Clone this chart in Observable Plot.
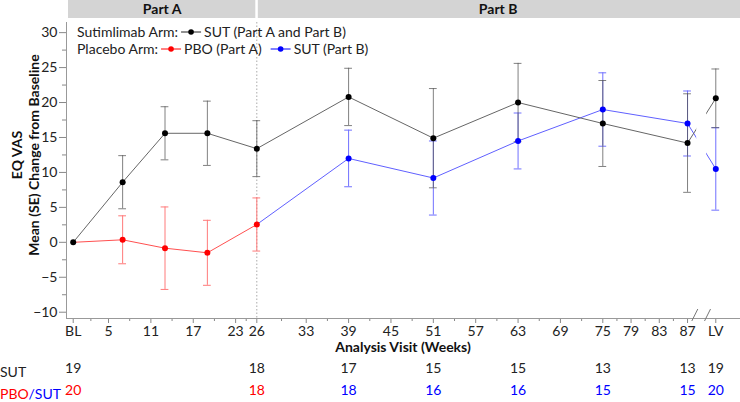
<!DOCTYPE html>
<html><head><meta charset="utf-8">
<script src="https://cdn.jsdelivr.net/npm/d3@7"></script>
<script src="https://cdn.jsdelivr.net/npm/@observablehq/plot@0.6"></script>
<style>
body{margin:0;background:#fff;font-family:Lato,"Open Sans",sans-serif;}
</style></head><body><div id="chart"></div>
<script>
// ---- data ----
const sutWeeks = [0, 7, 13, 19, 26, 39, 51, 63, 75, 87, 91]; // 91 = LV (after axis break)
const sutMean  = [0, 8.6, 15.6, 15.6, 13.4, 20.8, 14.9, 20.0, 17.0, 14.2, 20.6];
const sutSE    = [0, 3.8, 3.8, 4.6, 4.0, 4.1, 7.1, 5.6, 6.15, 7.05, 4.2];
const pboWeeks = [0, 7, 13, 19, 26];
const pboMean  = [0, 0.36, -0.84, -1.5, 2.55];
const pboSE    = [0, 3.43, 5.9, 4.65, 3.8];
const sutBWeeks = [39, 51, 63, 75, 87, 91];
const sutBMean  = [12.0, 9.2, 14.5, 19.0, 17.0, 10.5];
const sutBSE    = [4.05, 5.3, 4.0, 5.25, 4.65, 5.9];
const xTicks = [0, 5, 11, 17, 23, 26, 33, 39, 45, 51, 57, 63, 69, 75, 79, 83, 87, 91];
const xTickLabels = ["BL","5","11","17","23","26","33","39","45","51","57","63","69","75","79","83","87","LV"];
const yTicks = [-10, -5, 0, 5, 10, 15, 20, 25, 30];
const nWeeks = [0, 26, 39, 51, 63, 75, 87, 91];
const nSUT = [19, 18, 17, 15, 15, 13, 13, 19];
const nPBO = [20, 18, 18, 16, 16, 15, 15, 20];
const nPBOArm = ["PBO","PBO","SUT","SUT","SUT","SUT","SUT","SUT"];

// ---- derived tables ----
const mk = (ws, ms, ses) => ws.map((w, i) => ({w, m: ms[i], lo: ms[i] - ses[i], hi: ms[i] + ses[i], se: ses[i]}));
const sut = mk(sutWeeks, sutMean, sutSE);
const pbo = mk(pboWeeks, pboMean, pboSE);
const sutB = mk(sutBWeeks, sutBMean, sutBSE);
const sutBLine = [pbo[pbo.length - 1], ...sutB];
const xMinor = [];
for (let i = 0; i < xTicks.length - 2; i++) xMinor.push((xTicks[i] + xTicks[i + 1]) / 2);
const yMinor = yTicks.slice(0, -1).map(v => v + 2.5);
const labelOf = new Map(xTicks.map((t, i) => [t, xTickLabels[i]]));
const counts1 = nWeeks.map((w, i) => ({w, n: String(nSUT[i])}));
const counts2 = nWeeks.map((w, i) => ({w, n: String(nPBO[i]), arm: nPBOArm[i]}));

const xMin = -0.95, xMax = 94.5, yMin = -10.9, yMax = 31.45;
const BLACK = "#000", BLINE = "#666", BBAR = "#555";
const RED = "#ff0000", RLINE = "#ff5050", RBAR = "#ff7a7a";
const BLUE = "#0000ff", ULINE = "#6060ff", UBAR = "#7070ff";
const capW = 0.55;

function errorBars(rows, stroke, opacity) {
  const r = rows.filter(d => d.se > 0);
  return [
    Plot.ruleX(r, {x: "w", y1: "lo", y2: "hi", stroke, strokeOpacity: opacity}),
    Plot.ruleY(r, {y: "lo", x1: d => d.w - capW, x2: d => d.w + capW, stroke, strokeOpacity: opacity}),
    Plot.ruleY(r, {y: "hi", x1: d => d.w - capW, x2: d => d.w + capW, stroke, strokeOpacity: opacity})
  ];
}

const chart = Plot.plot({
  width: 740, height: 402,
  marginTop: 22, marginBottom: 84, marginLeft: 66, marginRight: 0,
  style: {fontFamily: "Lato, 'Open Sans', sans-serif", fontSize: "14px", color: "#222", background: "#fff", overflow: "visible"},
  x: {domain: [xMin, xMax]},
  y: {domain: [yMin, yMax]},
  marks: [
    Plot.ruleX([26], {stroke: "#aaa", strokeDasharray: "1.5,2"}),
    Plot.axisY({ticks: yTicks, tickSize: 7, tickPadding: 2, label: null, fontSize: 14, stroke: "#888", fill: "#222"}),
    Plot.axisY({ticks: yMinor, tickSize: 4, tickFormat: () => "", label: null, stroke: "#888"}),
    Plot.axisX({ticks: xTicks, tickSize: 5, tickPadding: 3, tickFormat: d => labelOf.get(d), label: null, fontSize: 14, stroke: "#888", fill: "#222"}),
    Plot.axisX({ticks: xMinor, tickSize: 3, tickFormat: () => "", label: null, stroke: "#888"}),
    Plot.ruleX([xMin], {stroke: "#999"}),
    Plot.ruleY([yMin], {stroke: "#999"}),
    ...errorBars(pbo, RBAR, 1),
    ...errorBars(sutB, UBAR, 1),
    ...errorBars(sut, BBAR, 0.75),
    Plot.line(pbo, {x: "w", y: "m", stroke: RLINE, strokeWidth: 1}),
    Plot.line(sutBLine, {x: "w", y: "m", stroke: ULINE, strokeWidth: 1}),
    Plot.line(sut, {x: "w", y: "m", stroke: BLINE, strokeWidth: 1}),
    Plot.rect([0], {x1: 88.3, x2: 89.7, y1: yMin + 0.5, y2: yMax, fill: "white"}),
    Plot.dot(pbo.filter(d => d.w > 0), {x: "w", y: "m", r: 3, fill: RED}),
    Plot.dot(sutB, {x: "w", y: "m", r: 3, fill: BLUE}),
    Plot.dot(sut, {x: "w", y: "m", r: 3, fill: BLACK}),
    Plot.text(counts1, {x: "w", text: "n", frameAnchor: "bottom", dy: 54, fontSize: 14, fill: "#222"}),
    Plot.text(counts2, {x: "w", text: "n", frameAnchor: "bottom", dy: 76, fontSize: 14, fill: d => d.arm === "PBO" ? RED : BLUE})
  ]
});
document.getElementById("chart").appendChild(chart);

// ---- decorations using the plot's scales ----
const X = v => chart.scale("x").apply(v);
const Y = v => chart.scale("y").apply(v);
const svg = d3.select(chart);
const FONT = "Lato, 'Open Sans', sans-serif";

// header band
const hdr = svg.insert("g", ":first-child");
const partA0 = X(xMin) + 2, split = X(26);
hdr.append("rect").attr("x", partA0).attr("y", 0).attr("width", split - 1 - partA0).attr("height", 18).attr("fill", "#d4d4d4");
hdr.append("rect").attr("x", split + 1.5).attr("y", 0).attr("width", 740 - split - 1.5).attr("height", 18).attr("fill", "#d4d4d4");
hdr.append("text").attr("x", (partA0 + split) / 2).attr("y", 9).attr("dy", "0.35em").attr("text-anchor", "middle")
  .attr("font-weight", "bold").attr("font-size", 14).attr("font-family", FONT).attr("fill", "#111").text("Part A");
hdr.append("text").attr("x", (split + 740) / 2).attr("y", 9).attr("dy", "0.35em").attr("text-anchor", "middle")
  .attr("font-weight", "bold").attr("font-size", 14).attr("font-family", FONT).attr("fill", "#111").text("Part B");

// y-axis title (two lines)
const yMid = 155;
[["EQ VAS", 17], ["Mean (SE) Change from Baseline", 34]].forEach(([t, xx]) => {
  svg.append("text").attr("transform", `translate(${xx},${yMid}) rotate(-90)`).attr("text-anchor", "middle").attr("dy", "0.35em")
    .attr("font-weight", "bold").attr("font-size", 14).attr("font-family", FONT).attr("fill", "#111").text(t);
});

// x-axis title
svg.append("text").attr("x", (X(xMin) + 740) / 2).attr("y", 347).attr("dy", "0.35em").attr("text-anchor", "middle")
  .attr("font-weight", "bold").attr("font-size", 14).attr("font-family", FONT).attr("fill", "#111").text("Analysis Visit (Weeks)");

// axis break slashes
[88.1, 89.9].forEach(w => {
  svg.append("line").attr("x1", X(w) - 3).attr("y1", Y(yMin) + 3).attr("x2", X(w) + 3).attr("y2", Y(yMin) - 9).attr("stroke", "#777");
});

// n table row labels
const r1 = svg.append("text").attr("x", 0).attr("y", Y(yMin) + 54).attr("dy", "0.35em").attr("text-anchor", "start").attr("font-size", 14).attr("font-family", FONT);
r1.append("tspan").attr("fill", "#222").text("SUT");
const r2 = svg.append("text").attr("x", 0).attr("y", Y(yMin) + 76).attr("dy", "0.35em").attr("text-anchor", "start").attr("font-size", 14).attr("font-family", FONT);
r2.append("tspan").attr("fill", RED).text("PBO");
r2.append("tspan").attr("fill", BLUE).text("/SUT");

// legend
function legendRow(yy, items) {
  let cx = 77;
  items.forEach(it => {
    if (it.type === "text") {
      const t = svg.append("text").attr("x", cx).attr("y", yy).attr("dy", "0.35em").attr("text-anchor", "start").attr("font-size", 14).attr("font-family", FONT).attr("fill", "#222").text(it.t);
      cx += t.node().getComputedTextLength() + (it.gap || 3);
    } else {
      svg.append("line").attr("x1", cx).attr("x2", cx + 20).attr("y1", yy).attr("y2", yy).attr("stroke", it.line);
      svg.append("circle").attr("cx", cx + 10).attr("cy", yy).attr("r", 2.8).attr("fill", it.dot);
      cx += 23;
    }
  });
}
legendRow(32, [{type: "text", t: "Sutimlimab Arm:"}, {type: "sym", line: "#222", dot: BLACK}, {type: "text", t: "SUT (Part A and Part B)"}]);
legendRow(49, [{type: "text", t: "Placebo Arm:"}, {type: "sym", line: RED, dot: RED}, {type: "text", t: "PBO (Part A)", gap: 9}, {type: "sym", line: BLUE, dot: BLUE}, {type: "text", t: "SUT (Part B)"}]);
</script></body></html>
